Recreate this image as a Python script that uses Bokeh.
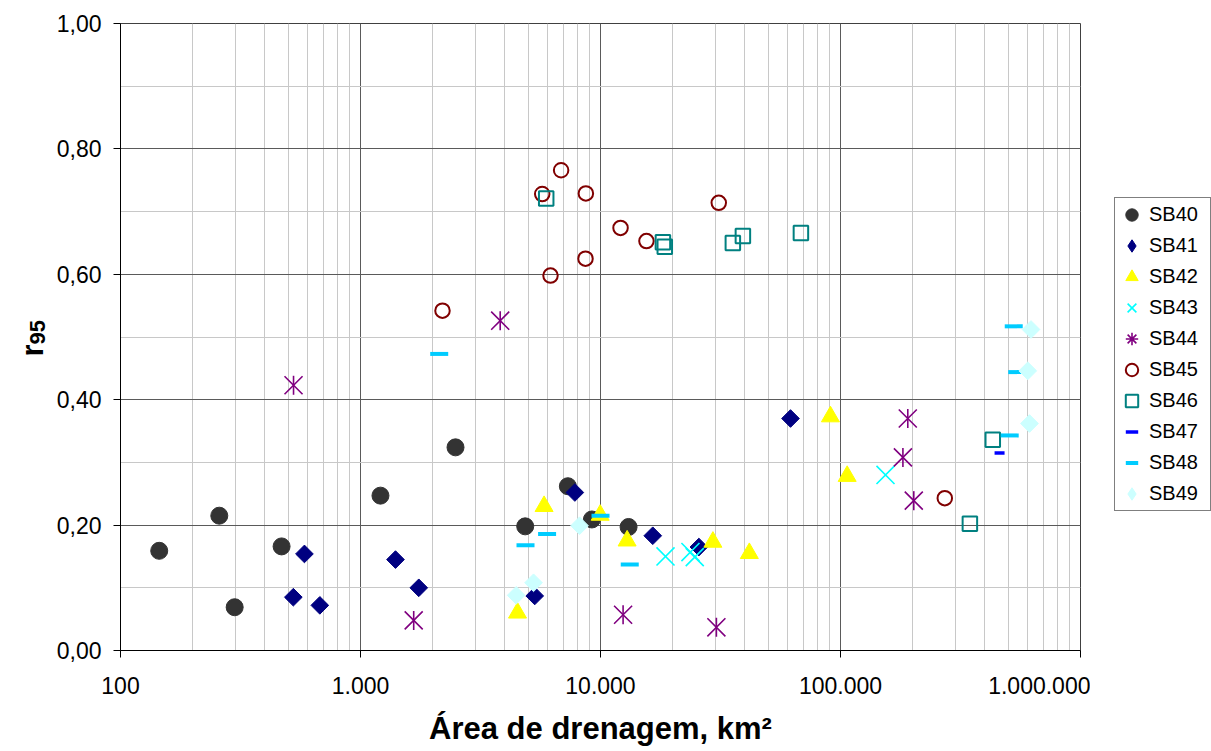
import math
from bokeh.plotting import figure
from bokeh.layouts import row
from bokeh.models import FixedTicker, Legend, LegendItem, Range1d, Label
from bokeh.embed import file_html
from bokeh.resources import INLINE

# ---------------- data ----------------
sb40_x = [145, 258, 299, 469, 1211, 2488, 4856, 7312, 9207, 13090]
sb40_y = [0.159, 0.215, 0.069, 0.166, 0.247, 0.324, 0.198, 0.262, 0.209, 0.197]

sb41_x = [525, 584, 677, 1399, 1749, 5320, 7820, 16510, 25700, 61900]
sb41_y = [0.085, 0.154, 0.072, 0.145, 0.100, 0.087, 0.252, 0.183, 0.165, 0.370]

sb42_x = [4510, 5820, 9970, 12910, 29400, 41700, 90800, 106600]
sb42_y = [0.060, 0.230, 0.216, 0.175, 0.173, 0.155, 0.373, 0.278]

sb43_x = [18660, 23700, 24700, 154000]
sb43_y = [0.150, 0.157, 0.149, 0.280]

sb44_x = [526, 1666, 3820, 12420, 30400, 182000, 190700, 202000]
sb44_y = [0.423, 0.048, 0.526, 0.057, 0.037, 0.308, 0.370, 0.239]

sb45_x = [2196, 5717, 6853, 8690, 6190, 8660, 12120, 15540, 31100, 272000]
sb45_y = [0.542, 0.728, 0.766, 0.729, 0.598, 0.625, 0.674, 0.653, 0.714, 0.243]

sb46_x = [5940, 18200, 18530, 35600, 39200, 68400, 431000, 346000]
sb46_y = [0.721, 0.651, 0.644, 0.650, 0.661, 0.666, 0.336, 0.202]

sb47_x = [460000]
sb47_y = [0.315]

sb48_x = [2128, 4870, 5990, 10000, 13240, 527000, 545000, 507000]
sb48_y = [0.473, 0.168, 0.186, 0.215, 0.137, 0.517, 0.444, 0.343]

sb49_x = [4452, 5260, 8180, 622000, 603000, 613000]
sb49_y = [0.088, 0.108, 0.199, 0.512, 0.446, 0.362]

series_names = ["SB40", "SB41", "SB42", "SB43", "SB44", "SB45", "SB46", "SB47", "SB48", "SB49"]

x_ticks = [100, 1000, 10000, 100000, 1000000]
x_tick_labels = ["100", "1.000", "10.000", "100.000", "1.000.000"]
y_ticks = [0.0, 0.2, 0.4, 0.6, 0.8, 1.0]
y_tick_labels = ["0,00", "0,20", "0,40", "0,60", "0,80", "1,00"]
y_minor = [0.1, 0.3, 0.5, 0.7, 0.9]
x_minor = [m * d for d in [100, 1000, 10000, 100000] for m in range(2, 10)]

x_title = "Área de drenagem, km²"
y_title_main = "r"
y_title_sub = "95"

FONT = "Liberation Sans"
H = 751

# ---------------- main figure ----------------
p = figure(width=1040, height=H, x_axis_type="log",
           x_range=Range1d(100, 1000000), y_range=Range1d(0, 1),
           output_backend="svg", toolbar_location=None,
           min_border_left=70, min_border_right=10,
           min_border_top=23, min_border_bottom=101)
p.background_fill_color = "white"
p.border_fill_color = "white"
p.outline_line_color = "#404040"
p.outline_line_width = 1

p.xaxis.ticker = FixedTicker(ticks=x_ticks, minor_ticks=x_minor)
p.yaxis.ticker = FixedTicker(ticks=y_ticks, minor_ticks=y_minor)
p.xaxis.major_label_overrides = dict(zip(x_ticks, x_tick_labels))
p.yaxis.major_label_overrides = dict(zip(y_ticks, y_tick_labels))

for ax in (p.xaxis, p.yaxis):
    ax.axis_line_color = "black"
    ax.axis_line_width = 1
    ax.major_tick_line_color = "black"
    ax.major_tick_in = 0
    ax.major_tick_out = 7
    ax.minor_tick_in = 0
    ax.minor_tick_out = 0
    ax.major_label_text_font = FONT
    ax.major_label_text_font_size = "23px"
    ax.major_label_text_color = "black"
p.xaxis.major_label_standoff = 19
p.yaxis.major_label_standoff = 12
p.xaxis.axis_label = x_title
p.xaxis.axis_label_text_font = FONT
p.xaxis.axis_label_text_font_size = "31px"
p.xaxis.axis_label_text_font_style = "bold"
p.xaxis.axis_label_text_color = "black"
p.xaxis.axis_label_standoff = 14

for g in (p.xgrid, p.ygrid):
    g.grid_line_color = "#5a5a5a"
    g.grid_line_width = 1
    g.minor_grid_line_color = "#c8c8c8"
    g.minor_grid_line_width = 1

# ---------------- series ----------------
p.scatter(sb40_x, sb40_y, marker="circle", size=17, fill_color="#333333", line_color="#333333")
p.scatter(sb41_x, sb41_y, marker="square", angle=math.pi / 4, size=12.5,
          fill_color="#000080", line_color="#000080")
p.scatter(sb42_x, sb42_y, marker="triangle", size=18, fill_color="#FFFF00", line_color="#FFFF00")
p.scatter(sb43_x, sb43_y, marker="x", size=25.5, line_color="#00FFFF", line_width=1.6)
p.scatter(sb44_x, sb44_y, marker="x", size=25.5, line_color="#800080", line_width=1.6)
p.scatter(sb44_x, sb44_y, marker="dash", angle=math.pi / 2, size=19, line_color="#800080", line_width=1.6)
p.scatter(sb45_x, sb45_y, marker="circle", size=14.5, fill_color=None, line_color="#800000", line_width=2)
p.scatter(sb46_x, sb46_y, marker="square", size=14.5, fill_color=None, line_color="#008080", line_width=2)
p.scatter(sb47_x, sb47_y, marker="dash", size=10, line_color="#0000FF", line_width=3.5)
p.scatter(sb48_x, sb48_y, marker="dash", size=18, line_color="#00CCFF", line_width=4)
p.scatter(sb49_x, sb49_y, marker="square", angle=math.pi / 4, size=12.5,
          fill_color="#CCFFFF", line_color="#CCFFFF")

# ---------------- left strip: y title ----------------
pl = figure(width=50, height=H, output_backend="svg", toolbar_location=None,
            x_range=Range1d(0, 1), y_range=Range1d(0, 1),
            min_border_left=0, min_border_right=0, min_border_top=0, min_border_bottom=0,
            x_axis_location=None, y_axis_location=None)
pl.grid.visible = False
pl.outline_line_color = None
pl.background_fill_color = "white"
pl.border_fill_color = "white"
pl.add_layout(Label(x=32, y=294, x_units="screen", y_units="screen", text=y_title_main,
                    angle=math.pi / 2, text_font=FONT, text_font_size="31px", text_font_style="bold",
                    text_align="left", text_baseline="alphabetic", text_color="black"))
pl.add_layout(Label(x=37, y=306, x_units="screen", y_units="screen", text=y_title_sub,
                    angle=math.pi / 2, text_font=FONT, text_font_size="22px", text_font_style="bold",
                    text_align="left", text_baseline="alphabetic", text_color="black"))

# ---------------- right strip: legend ----------------
pr = figure(width=121, height=H, output_backend="svg", toolbar_location=None,
            x_range=Range1d(0, 1), y_range=Range1d(0, 1),
            min_border_left=0, min_border_right=0, min_border_top=0, min_border_bottom=0,
            x_axis_location=None, y_axis_location=None)
pr.grid.visible = False
pr.outline_line_color = None
pr.background_fill_color = "white"
pr.border_fill_color = "white"

NA = [float("nan")]
l40 = [pr.scatter(NA, NA, marker="circle", fill_color="#333333", line_color="#333333")]
l41 = [pr.scatter(NA, NA, marker="diamond", fill_color="#000080", line_color="#000080")]
l42 = [pr.scatter(NA, NA, marker="triangle", fill_color="#FFFF00", line_color="#FFFF00")]
l43 = [pr.scatter(NA, NA, marker="x", line_color="#00FFFF", line_width=1.6)]
l44 = [pr.scatter(NA, NA, marker="asterisk", line_color="#800080", line_width=1.6)]
l45 = [pr.scatter(NA, NA, marker="circle", fill_color=None, line_color="#800000", line_width=2)]
l46 = [pr.scatter(NA, NA, marker="square", fill_color=None, line_color="#008080", line_width=2)]
l47 = [pr.scatter(NA, NA, marker="dash", line_color="#0000FF", line_width=3.5)]
l48 = [pr.scatter(NA, NA, marker="dash", line_color="#00CCFF", line_width=4)]
l49 = [pr.scatter(NA, NA, marker="diamond", fill_color="#CCFFFF", line_color="#CCFFFF")]

renderers = [l40, l41, l42, l43, l44, l45, l46, l47, l48, l49]
items = [LegendItem(label=n, renderers=rs) for n, rs in zip(series_names, renderers)]
legend = Legend(items=items, location=(24, 139),
                label_text_font=FONT, label_text_font_size="20px", label_text_color="black",
                glyph_width=31, glyph_height=31, label_height=31, label_width=60,
                label_standoff=2, spacing=0, padding=1, margin=0,
                border_line_color="black", border_line_width=1,
                background_fill_color="white", background_fill_alpha=1)
pr.add_layout(legend)

layout = row(pl, p, pr)
open("out.html", "w").write(file_html(layout, INLINE))
